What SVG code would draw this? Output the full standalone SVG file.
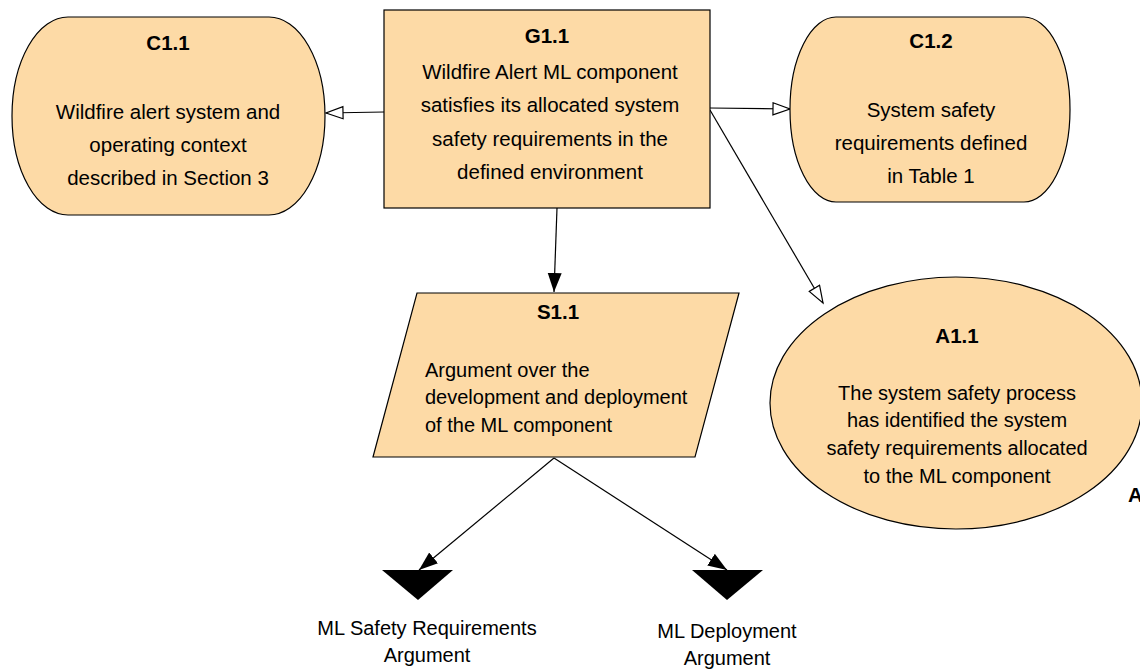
<svg xmlns="http://www.w3.org/2000/svg" width="1140" height="672" viewBox="0 0 1140 672">
<defs>
<style>
.node{fill:#fddaa6;stroke:#000;stroke-width:1.2}
.t{font-family:"Liberation Sans",Arial,sans-serif;font-size:20.5px;fill:#000;text-anchor:middle}
.s{font-size:20px}
.b{font-weight:700}
.l{text-anchor:start}
.edge{stroke:#000;stroke-width:1.2;fill:none}
</style>
<marker id="hollow" markerUnits="userSpaceOnUse" markerWidth="22" markerHeight="16" refX="18" refY="7" orient="auto">
<path d="M1,1 L18,7 L1,13 Z" fill="#fff" stroke="#000" stroke-width="1.2"/>
</marker>
<marker id="solid" markerUnits="userSpaceOnUse" markerWidth="22" markerHeight="16" refX="19" refY="7" orient="auto">
<path d="M0,0 L19,7 L0,14 Z" fill="#000"/>
</marker>
</defs>
<rect width="1140" height="672" fill="#fff"/>
<g id="connectors">
<line class="edge" x1="384" y1="112" x2="326" y2="113" marker-end="url(#hollow)"/>
<line class="edge" x1="710" y1="108" x2="790" y2="109" marker-end="url(#hollow)"/>
<line class="edge" x1="710" y1="110" x2="823" y2="303" marker-end="url(#hollow)"/>
<line class="edge" x1="557" y1="208" x2="554" y2="292" marker-end="url(#solid)"/>
<line class="edge" x1="554" y1="458" x2="419" y2="570" marker-end="url(#solid)"/>
<line class="edge" x1="554" y1="458" x2="727" y2="570" marker-end="url(#solid)"/>
</g>
<g id="C1.1">
<rect class="node" x="12" y="17" width="313" height="198" rx="56" ry="99"/>
<text class="t b" x="168" y="50">C1.1</text>
<text class="t" x="168" y="119">Wildfire alert system and</text>
<text class="t" x="168" y="152">operating context</text>
<text class="t" x="168" y="185">described in Section 3</text>
</g>
<g id="G1.1">
<rect class="node" x="384" y="10" width="326" height="198"/>
<text class="t b" x="547" y="43">G1.1</text>
<text class="t" x="550" y="79">Wildfire Alert ML component</text>
<text class="t" x="550" y="112">satisfies its allocated system</text>
<text class="t" x="550" y="146">safety requirements in the</text>
<text class="t" x="550" y="179">defined environment</text>
</g>
<g id="C1.2">
<rect class="node" x="790" y="17" width="280" height="185" rx="46" ry="92"/>
<text class="t b" x="931" y="48">C1.2</text>
<text class="t" x="931" y="117">System safety</text>
<text class="t" x="931" y="150">requirements defined</text>
<text class="t" x="931" y="183">in Table 1</text>
</g>
<g id="S1.1">
<polygon class="node" points="417,293 739,293 695,457 373,457"/>
<text class="t b" x="558" y="319">S1.1</text>
<text class="t s l" x="425" y="377">Argument over the</text>
<text class="t s l" x="425" y="404">development and deployment</text>
<text class="t s l" x="425" y="432">of the ML component</text>
</g>
<g id="A1.1">
<ellipse class="node" cx="956" cy="403" rx="186" ry="126"/>
<text class="t b" x="957" y="343">A1.1</text>
<text class="t s" x="957" y="400">The system safety process</text>
<text class="t s" x="957" y="427">has identified the system</text>
<text class="t s" x="957" y="455">safety requirements allocated</text>
<text class="t s" x="957" y="483">to the ML component</text>
<text class="t b l" x="1128" y="502">A</text>
</g>
<g id="ML_Safety_Requirements_Argument">
<polygon points="382,570 453,570 418,600" fill="#000"/>
<text class="t s" x="427" y="635">ML Safety Requirements</text>
<text class="t s" x="427" y="662">Argument</text>
</g>
<g id="ML_Deployment_Argument">
<polygon points="692,570 763,570 727,600" fill="#000"/>
<text class="t s" x="727" y="638">ML Deployment</text>
<text class="t s" x="727" y="665">Argument</text>
</g>
</svg>
